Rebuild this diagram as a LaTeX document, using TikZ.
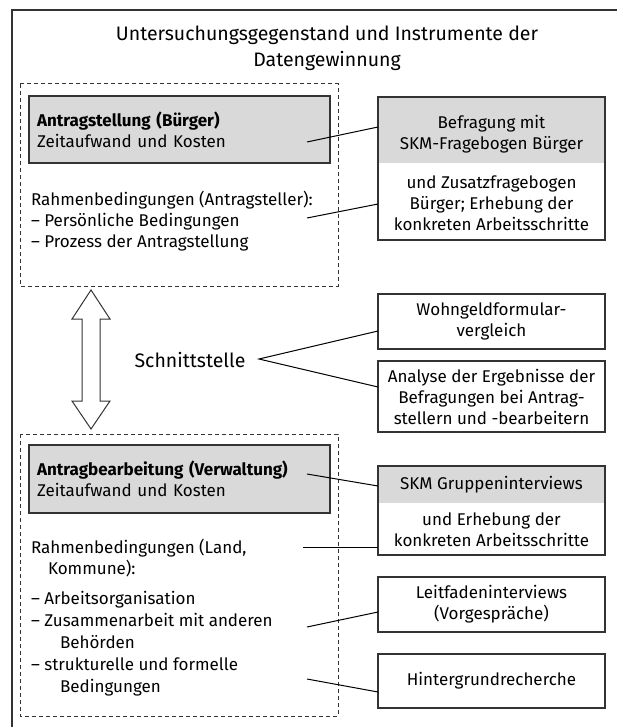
\documentclass[tikz,border=0pt]{standalone}
\usepackage{fontspec}
\setmainfont{Fira Sans}
\definecolor{boxgray}{HTML}{D9D9D9}
\definecolor{edge}{HTML}{333333}
\begin{document}
\begin{tikzpicture}[x=1pt,y=-1pt,
  every node/.style={inner sep=0pt, outer sep=0pt, text=black},
  txt/.style={font=\fontsize{17}{21}\selectfont},
  rbox/.style={draw=edge, line width=1.2pt, minimum width=227pt, txt, align=center},
  gbox/.style={draw=edge, fill=boxgray, line width=1.2pt, minimum width=301pt, minimum height=67pt, text width=285pt, align=left, txt},
  dbox/.style={draw=edge, dash pattern=on 4pt off 3pt, line width=1pt},
  link/.style={draw=black, line width=1pt}]
\useasboundingbox (0,0) rectangle (617,727);
\draw[line width=2pt, edge] (12,727) -- (12,10) -- (617,10);

% title
\node[font=\fontsize{19.5}{26}\selectfont, align=center] (title) at (327,48) {Untersuchungsgegenstand und Instrumente der\\Datengewinnung};

% upper area
\draw[dbox] (20,84) rectangle (338,286);
\node[gbox] (g1) at (179.5,129.5) {\textbf{Antragstellung (Bürger)}\\Zeitaufwand und Kosten};
\node[txt, anchor=west, align=left] (r1) at (31,221) {Rahmenbedingungen (Antragsteller):\\– Persönliche Bedingungen\\– Prozess der Antragstellung};

\fill[boxgray] (378,97) rectangle (605,163);
\node[rbox, minimum height=143pt] (bf) at (491.5,168.5) {};
\node[txt, align=center] (bf1) at (491.5,134) {Befragung mit\\SKM-Fragebogen Bürger};
\node[txt, align=center] (bf2) at (491.5,203) {und Zusatzfragebogen\\Bürger; Erhebung der\\konkreten Arbeitsschritte};
\coordinate (c1) at (307,142);
\coordinate (c2) at (307,218);
\draw[link] (c1) -- ([yshift=41.5pt]bf.west);
\draw[link] (c2) -- ([yshift=-35.5pt]bf.west);

% interface
\draw[edge, line width=1pt, fill=white] (91,290) -- (110,319) -- (100,319) -- (100,401) -- (110,401) -- (91,429) -- (72,401) -- (82,401) -- (82,319) -- (72,319) -- cycle;
\node[font=\fontsize{19.5}{24}\selectfont] (sst) at (190,360) {Schnittstelle};
\coordinate (sp) at (259,359);
\node[rbox, minimum height=55pt] (wg) at (491.5,321.5) {Wohngeldformular-\\vergleich};
\node[rbox, minimum height=71pt] (an) at (491.5,396.5) {Analyse der Ergebnisse der\\Befragungen bei Antrag-\\stellern und -bearbeitern};
\draw[link] ([yshift=-9.5pt]wg.west) -- (sp) -- ([yshift=9.5pt]an.west);

% lower area
\draw[dbox] (20,434) rectangle (338,716);
\node[gbox, minimum height=68pt] (g2) at (179.5,479) {\textbf{Antragbearbeitung (Verwaltung)}\\Zeitaufwand und Kosten};
\node[txt, anchor=west, align=left] (r2) at (31,558.5) {Rahmenbedingungen (Land,\\\hspace*{17pt}Kommune):};
\node[txt, anchor=west, align=left, font=\fontsize{17}{22}\selectfont] (r3) at (31,644) {– Arbeitsorganisation\\– Zusammenarbeit mit anderen\\\hspace*{29pt}Behörden\\– strukturelle und formelle\\\hspace*{29pt}Bedingungen};

\fill[boxgray] (378,466) rectangle (605,503);
\node[rbox, minimum height=89pt] (skm) at (491.5,510.5) {};
\node[txt] (skm1) at (491.5,485) {SKM Gruppeninterviews};
\node[txt, align=center] (skm2) at (491.5,530) {und Erhebung der\\konkreten Arbeitsschritte};
\node[rbox, minimum height=55pt] (lf) at (491.5,604.5) {Leitfadeninterviews\\(Vorgespräche)};
\node[rbox, minimum height=54pt] (hg) at (491.5,681) {Hintergrundrecherche};

\coordinate (c3) at (307,474);
\coordinate (c4) at (303,547);
\coordinate (c5) at (307,627);
\coordinate (c6) at (307,679);
\draw[link] (c3) -- ([yshift=24.5pt]skm.west);
\draw[link] (c4) -- ([yshift=-36.5pt]skm.west);
\draw[link] (c5) -- ([yshift=-7.5pt]lf.west);
\draw[link] (c6) -- ([yshift=-11pt]hg.west);
\end{tikzpicture}
\end{document}
